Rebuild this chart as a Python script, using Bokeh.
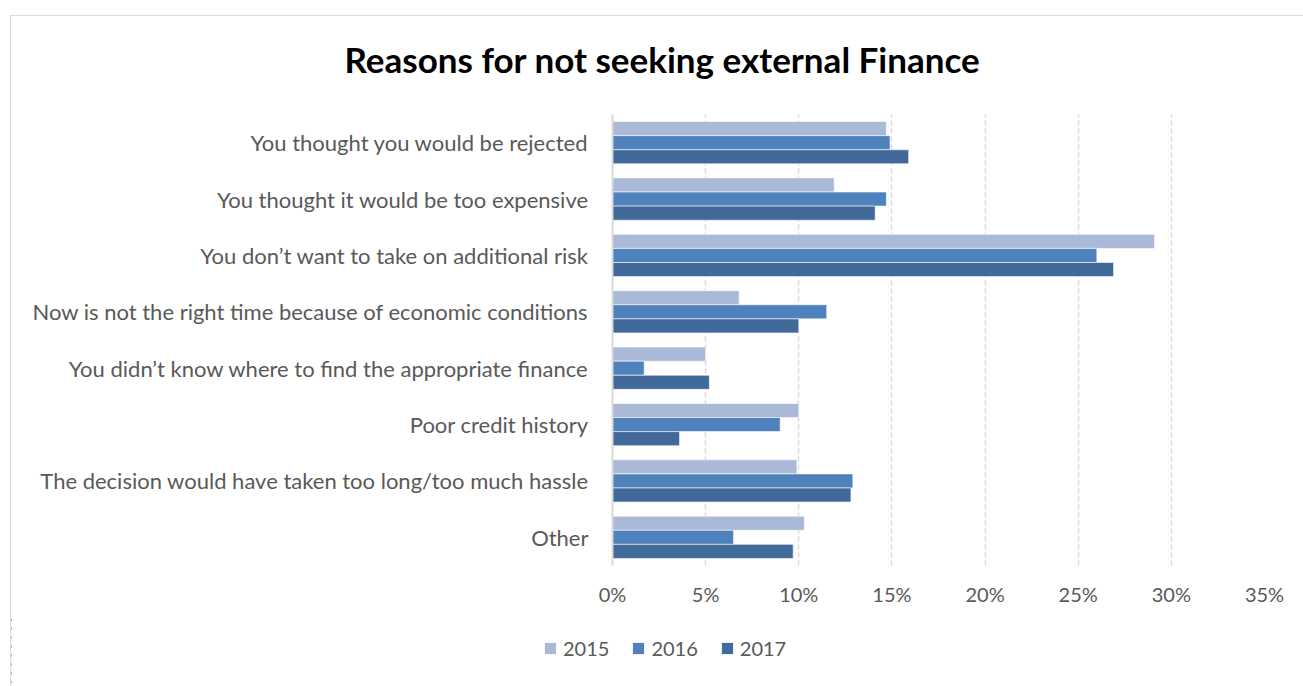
from bokeh.plotting import figure
from bokeh.layouts import column, row
from bokeh.models import FactorRange, FixedTicker, NumeralTickFormatter, Legend, LegendItem, Label, ColumnDataSource
from bokeh.transform import dodge
from bokeh.embed import file_html
from bokeh.resources import INLINE

categories = [
    "You thought you would be rejected",
    "You thought it would be too expensive",
    "You don\u2019t want to take on additional risk",
    "Now is not the right time because of economic conditions",
    "You didn\u2019t know where to find the appropriate finance",
    "Poor credit history",
    "The decision would have taken too long/too much hassle",
    "Other",
]
years = ["2015", "2016", "2017"]
v2015 = [14.7, 11.9, 29.1, 6.8, 5.0, 10.0, 9.9, 10.3]
v2016 = [14.9, 14.7, 26.0, 11.5, 1.7, 9.0, 12.9, 6.5]
v2017 = [15.9, 14.1, 26.9, 10.0, 5.2, 3.6, 12.8, 9.7]
ticks = [0, 0.05, 0.10, 0.15, 0.20, 0.25, 0.30, 0.35]
colors = ["#AAB9D7", "#4F81BD", "#416A9B"]
title_text = "Reasons for not seeking external Finance"

BORDER = "1px solid #D9D9D9"

src = ColumnDataSource(dict(
    cat=categories,
    y2015=[v / 100 for v in v2015],
    y2016=[v / 100 for v in v2016],
    y2017=[v / 100 for v in v2017],
))

# title strip
pt = figure(width=1293, height=99, x_range=(0, 1293), y_range=(0, 99), title=None,
            output_backend="svg", toolbar_location=None,
            min_border_left=0, min_border_right=0, min_border_top=0, min_border_bottom=0)
pt.axis.visible = False
pt.grid.visible = False
pt.outline_line_color = None
pt.add_layout(Label(x=651, y=57, text=title_text, text_font="Lato", text_font_style="bold",
                    text_font_size="35px", text_color="#000000",
                    text_align="center", text_baseline="middle"))
pt.styles = {"border-top": BORDER, "border-left": BORDER}

# main chart
p = figure(
    width=1293, height=501, title=None,
    y_range=FactorRange(factors=list(reversed(categories)), range_padding=0),
    x_range=(0, 0.35),
    output_backend="svg", toolbar_location=None,
    min_border_left=601, min_border_right=40, min_border_top=0, min_border_bottom=50,
)
p.outline_line_color = None
p.styles = {"border-left": BORDER}

offsets = [0.25, 0.0, -0.25]
for yr, off, col in zip(years, offsets, colors):
    p.hbar(y=dodge("cat", off, range=p.y_range), right="y" + yr, left=0, height=0.25,
           source=src, fill_color=col, line_color="white", line_width=0.6)

p.xaxis.ticker = FixedTicker(ticks=ticks)
p.xaxis.formatter = NumeralTickFormatter(format="0%")
p.xaxis.axis_line_color = None
p.xaxis.major_tick_line_color = None
p.xaxis.minor_tick_line_color = None
p.xaxis.major_label_text_font = "Lato"
p.xaxis.major_label_text_font_size = "20px"
p.xaxis.major_label_text_color = "#595959"
p.xaxis.major_label_standoff = 10

p.yaxis.axis_line_color = "#D9D9D9"
p.yaxis.axis_line_width = 2
p.yaxis.major_tick_line_color = None
p.yaxis.minor_tick_line_color = None
p.yaxis.major_label_text_font = "Lato"
p.yaxis.major_label_text_font_size = "22px"
p.yaxis.major_label_text_color = "#595959"
p.yaxis.major_label_standoff = 18

p.ygrid.grid_line_color = None
p.xgrid.grid_line_color = "#D9D9D9"
p.xgrid.grid_line_width = 1.5
p.xgrid.grid_line_dash = "5 3"

# legend strip (series drawn off-view so only the legend shows)
pl = figure(width=1293, height=71, x_range=(10, 11), y_range=FactorRange(factors=categories),
            title=None, output_backend="svg", toolbar_location=None,
            min_border_left=0, min_border_right=0, min_border_top=0, min_border_bottom=0)
pl.axis.visible = False
pl.grid.visible = False
pl.outline_line_color = None
pl.styles = {"border-left": BORDER}
leg_renderers = []
for yr, col in zip(years, colors):
    r = pl.hbar(y="cat", right="y" + yr, left=0, height=0.25, source=src,
                fill_color=col, line_color=None)
    leg_renderers.append(r)
legend = Legend(
    items=[LegendItem(label=yr, renderers=[r]) for yr, r in zip(years, leg_renderers)],
    orientation="horizontal", location=(532, 26),
    label_text_font="Lato", label_text_font_size="20px", label_text_color="#595959",
    glyph_width=14, glyph_height=14, spacing=22, label_standoff=6,
    border_line_color=None, background_fill_alpha=0, padding=4, margin=0,
)
pl.add_layout(legend, "center")

layout = column(row(pt), p, row(pl), spacing=0)
layout.margin = (15, 0, 0, 10)

open("out.html", "w").write(file_html(layout, INLINE))
